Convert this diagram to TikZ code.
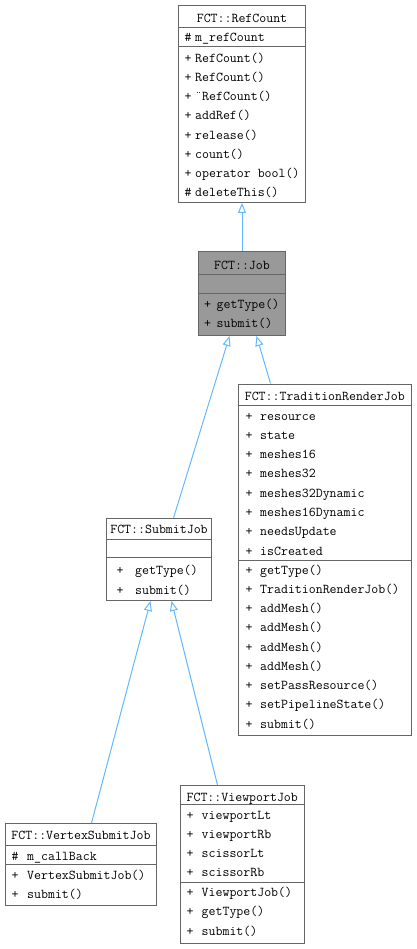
\documentclass[tikz,border=0pt]{standalone}
\usetikzlibrary{arrows.meta}
\definecolor{edgeblue}{HTML}{63B8FF}
\definecolor{boxgray}{HTML}{666666}
\definecolor{jobfill}{HTML}{999999}
\tikzset{
  classbox/.style={draw=boxgray, line width=1pt, fill=white, inner sep=0pt, anchor=north west},
  sepline/.style={draw=boxgray, line width=1pt},
  txt/.style={inner sep=0pt, font=\ttfamily\fontsize{13.5}{15}\selectfont},
  inherit/.style={draw=edgeblue, line width=1pt, -{Triangle[open, length=10pt, width=8pt, fill=white]}},
}
% name, symbol x, text x, list of y/symbol/text
\newcommand\classrows[4]{%
  \foreach \yy/\ss/\lab [count=\i] in {#4} {%
    \node[txt, anchor=base] (#1s\i) at (#2,\yy) {\ss};
    \node[txt, anchor=base west] (#1t\i) at (#3,\yy) {\lab};
  }%
}
\newcommand\hsep[2]{\draw[sepline] (#1.west |- 0,#2) -- (#1.east |- 0,#2);}
\begin{document}
\begin{tikzpicture}[x=1pt, y=-1pt]
\useasboundingbox (0,0) rectangle (416,949);

% ---- FCT::RefCount
\node[classbox, minimum width=127pt, minimum height=197pt] (rc) at (178,5) {};
\node[txt, anchor=base] (rctitle) at (rc.center |- 0,22.3) {FCT::RefCount};
\hsep{rc}{28}\hsep{rc}{47}
\classrows{rc}{188}{195}{41.3/\#/m\_refCount, 62.3/+/RefCount(), 81.5/+/RefCount(), 100.7/+/¨RefCount(), 120/+/addRef(), 139.2/+/release(), 158.4/+/count(), 177.6/+/operator bool(), 196.8/\#/deleteThis()}

% ---- FCT::Job
\node[classbox, fill=jobfill, minimum width=87pt, minimum height=84pt] (job) at (198,251) {};
\node[txt, anchor=base] (jobtitle) at (job.center |- 0,269.5) {FCT::Job};
\hsep{job}{275}\hsep{job}{293}
\classrows{job}{207.7}{216.5}{308/+/getType(), 327.5/+/submit()}

% ---- FCT::TraditionRenderJob
\node[classbox, minimum width=172.5pt, minimum height=351.5pt] (trj) at (238,383.5) {};
\node[txt, anchor=base] (trjtitle) at (trj.center |- 0,400) {FCT::TraditionRenderJob};
\hsep{trj}{405}\hsep{trj}{560}
\classrows{trj}{249}{260}{420/+/resource, 439.3/+/state, 458.6/+/meshes16, 477.9/+/meshes32, 497.2/+/meshes32Dynamic, 516.5/+/meshes16Dynamic, 535.8/+/needsUpdate, 555.1/+/isCreated,
 574/+/getType(), 593.25/+/TraditionRenderJob(), 612.5/+/addMesh(), 631.75/+/addMesh(), 651/+/addMesh(), 670.25/+/addMesh(), 689.5/+/setPassResource(), 708.75/+/setPipelineState(), 728/+/submit()}

% ---- FCT::SubmitJob
\node[classbox, minimum width=105pt, minimum height=82pt] (sub) at (106,518) {};
\node[txt, anchor=base] (subtitle) at (sub.center |- 0,533.5) {FCT::SubmitJob};
\hsep{sub}{539}\hsep{sub}{557}
\classrows{sub}{120}{135}{574/+/getType(), 594/+/submit()}

% ---- FCT::VertexSubmitJob
\node[classbox, minimum width=151pt, minimum height=82pt] (vsj) at (5,823) {};
\node[txt, anchor=base] (vsjtitle) at (vsj.center |- 0,839) {FCT::VertexSubmitJob};
\hsep{vsj}{845}\hsep{vsj}{864}
\classrows{vsj}{15}{27}{860/\#/m\_callBack, 879.7/+/VertexSubmitJob(), 898.3/+/submit()}

% ---- FCT::ViewportJob
\node[classbox, minimum width=123.5pt, minimum height=158pt] (vpj) at (180,785) {};
\node[txt, anchor=base] (vpjtitle) at (vpj.center |- 0,801) {FCT::ViewportJob};
\hsep{vpj}{804}\hsep{vpj}{882}
\classrows{vpj}{190}{201.5}{819/+/viewportLt, 838.3/+/viewportRb, 857.6/+/scissorLt, 876.9/+/scissorRb, 896/+/ViewportJob(), 915.5/+/getType(), 935/+/submit()}

% ---- inheritance edges
\draw[inherit] (job.north) -- (rc.south);
\draw[inherit] ([xshift=14.5pt]sub.north) -- ([xshift=-12.5pt]job.south);
\draw[inherit] ([xshift=-54.25pt]trj.north) -- ([xshift=14.5pt]job.south);
\draw[inherit] ([xshift=10.5pt]vsj.north) -- ([xshift=-8.5pt]sub.south);
\draw[inherit] ([xshift=-24.75pt]vpj.north) -- ([xshift=12.5pt]sub.south);
\end{tikzpicture}
\end{document}
